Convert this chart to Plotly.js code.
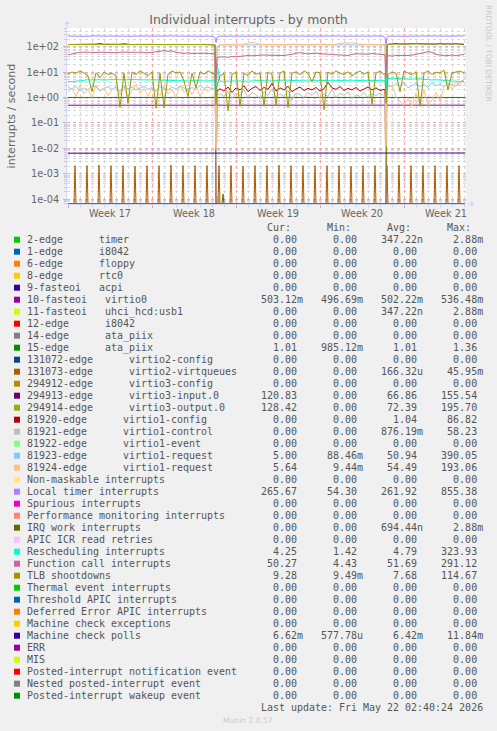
<!DOCTYPE html>
<html><head><meta charset="utf-8">
<script src="https://cdn.plot.ly/plotly-3.0.1.min.js"></script>
<style>html,body{margin:0;padding:0;background:#F0F0F0;}#chart{width:497px;height:731px;}</style>
</head><body><div id="chart"></div>
<script>
// ---------------- DATA ----------------
const seriesLabels = [
 "2-edge      timer","1-edge      i8042","6-edge      floppy","8-edge      rtc0","9-fasteoi   acpi",
 "10-fasteoi   virtio0","11-fasteoi   uhci_hcd:usb1","12-edge      i8042","14-edge      ata_piix","15-edge      ata_piix",
 "131072-edge      virtio2-config","131073-edge      virtio2-virtqueues","294912-edge      virtio3-config",
 "294913-edge      virtio3-input.0","294914-edge      virtio3-output.0",
 "81920-edge      virtio1-config","81921-edge      virtio1-control","81922-edge      virtio1-event",
 "81923-edge      virtio1-request","81924-edge      virtio1-request",
 "Non-maskable interrupts","Local timer interrupts","Spurious interrupts","Performance monitoring interrupts",
 "IRQ work interrupts","APIC ICR read retries","Rescheduling interrupts","Function call interrupts","TLB shootdowns",
 "Thermal event interrupts","Threshold APIC interrupts","Deferred Error APIC interrupts","Machine check exceptions",
 "Machine check polls","ERR","MIS","Posted-interrupt notification event","Nested posted-interrupt event",
 "Posted-interrupt wakeup event"];
const seriesColors = [
 "#00CC00","#0066B3","#FF8000","#FFCC00","#330099","#990099","#CCFF00","#FF0000","#808080","#008F00",
 "#00487D","#B35A00","#B38F00","#6B006B","#8FB300","#B30000","#BEBEBE","#80FF80","#80C9FF","#FFC080",
 "#FFE680","#AA80FF","#EE00CC","#FF8080","#666600","#FFBFFF","#00FFCC","#CC6699","#999900",
 "#00CC00","#0066B3","#FF8000","#FFCC00","#330099","#990099","#CCFF00","#FF0000","#808080","#008F00"];
const curText = ["0.00","0.00","0.00","0.00","0.00","503.12m","0.00","0.00","0.00","1.01",
 "0.00","0.00","0.00","120.83","128.42","0.00","0.00","0.00","5.00","5.64",
 "0.00","265.67","0.00","0.00","0.00","0.00","4.25","50.27","9.28",
 "0.00","0.00","0.00","0.00","6.62m","0.00","0.00","0.00","0.00","0.00"];
const minText = ["0.00","0.00","0.00","0.00","0.00","496.69m","0.00","0.00","0.00","985.12m",
 "0.00","0.00","0.00","0.00","0.00","0.00","0.00","0.00","88.46m","9.44m",
 "0.00","54.30","0.00","0.00","0.00","0.00","1.42","4.43","9.49m",
 "0.00","0.00","0.00","0.00","577.78u","0.00","0.00","0.00","0.00","0.00"];
const avgText = ["347.22n","0.00","0.00","0.00","0.00","502.22m","347.22n","0.00","0.00","1.01",
 "0.00","166.32u","0.00","66.86","72.39","1.04","876.19m","0.00","50.94","54.49",
 "0.00","261.92","0.00","0.00","694.44n","0.00","4.79","51.69","7.68",
 "0.00","0.00","0.00","0.00","6.42m","0.00","0.00","0.00","0.00","0.00"];
const maxText = ["2.88m","0.00","0.00","0.00","0.00","536.48m","2.88m","0.00","0.00","1.36",
 "0.00","45.95m","0.00","155.54","195.70","86.82","58.23","0.00","390.05","193.06",
 "0.00","855.38","0.00","0.00","2.88m","0.00","323.93","291.12","114.67",
 "0.00","0.00","0.00","0.00","11.84m","0.00","0.00","0.00","0.00","0.00"];
const headerText = "Cur:      Min:      Avg:      Max:";
const lastUpdateText = "Last update: Fri May 22 02:40:24 2026";

const weekLabels = ["Week 17","Week 18","Week 19","Week 20","Week 21"];
const yTickVals = [1e-4,1e-3,1e-2,1e-1,1,10,100];
const yTickText = ["1e-04","1e-03","1e-02","1e-01","1e+00","1e+01","1e+02"];

// time base: hours after Sun 2026-04-19 00:00; samples every 8 h, plus points around the two reboots
const startUTC = Date.UTC(2026,3,19,0,0);
const stepHours = 8, gridCount = 100;
const rebootHours = [296, 636];
const viewStartHour = -2, viewEndHour = 796;

// noisy series on that time base (segments: 37 | reboot 3 | 42 | reboot 3 | 20)
const localTimer = [
 262,258,265,260,263,257,266,261,259,264,260,262,258,265,261,263,259,262,266,260,258,263,261,264,259,262,260,265,261,258,263,260,262,264,259,261,255,
 228,144,236,
 262,260,264,258,263,261,259,265,260,262,258,264,261,263,259,262,260,265,258,261,263,260,262,259,264,261,258,263,260,262,264,259,261,263,260,262,258,264,261,260,263,256,
 226,117,234,
 262,259,264,261,263,258,262,265,260,263,259,261,264,262,258,263,261,264,260,266];
const functionCall = [
 48,52,58,60,61,60,62,59,61,60,62,60,58,61,60,62,59,60,61,59,58,60,62,64,70,66,68,60,56,55,57,54,55,56,54,55,53,
 52,4.43,38,
 39,40,38,41,40,42,44,45,44,46,45,47,46,45,47,46,45,48,50,56,58,55,52,54,56,53,52,50,47,46,47,46,45,50,53,52,50,51,54,52,50,49,
 48,6.0,42,
 44,43,45,44,46,45,47,50,52,58,64,60,50,46,44,45,47,44,46,50];
const tlbShootdowns = [
 8.2,10.1,9.0,11.2,9.3,7.1,1.7,9.4,6.0,10.3,8.1,9.2,7.0,0.4,9.1,0.6,10.2,8.0,11.3,9.0,7.2,10.4,0.38,9.1,0.4,8.2,11.0,9.3,10.1,4.5,1.1,9.2,2.4,10.3,8.4,11.2,9.0,
 8.0,0.5,3.0,
 7.1,9.0,0.3,8.2,10.1,0.45,9.2,7.3,11.1,8.4,9.1,0.45,10.2,8.0,0.5,9.3,11.0,0.4,9.0,10.3,8.1,11.2,9.0,4.2,10.1,9.3,0.33,10.0,8.2,11.1,9.2,8.0,10.4,7.1,9.3,11.0,8.3,10.2,0.55,9.1,11.0,8.2,
 9.0,0.6,2.0,
 8.1,10.2,9.0,1.7,11.1,9.2,8.0,10.3,0.45,9.1,11.2,8.1,10.0,9.2,12.0,2.0,9.3,10.1,11.0,9.3];
const rescheduling = [
 4.3,4.2,4.4,4.6,4.8,5.0,4.9,5.1,5.0,4.9,5.0,5.2,5.1,5.0,4.9,5.0,5.1,5.0,4.9,4.8,4.9,5.0,5.1,4.9,4.8,4.7,4.8,4.6,4.5,4.6,4.5,4.6,4.7,4.6,4.5,4.6,4.7,
 4.6,1.42,22,
 4.4,4.3,4.4,4.5,4.6,4.5,4.4,4.3,4.5,4.6,4.7,4.6,4.5,4.4,4.6,4.8,4.9,4.8,4.7,4.6,4.5,4.4,4.5,4.6,4.7,4.8,4.7,4.6,4.5,4.6,4.7,4.8,4.9,4.8,4.7,4.6,4.5,4.6,4.7,4.6,4.5,4.6,
 4.6,1.6,15,
 5.5,5.8,5.6,5.7,5.5,5.3,5.4,5.6,5.5,5.2,5.0,4.9,5.0,4.8,4.7,4.6,4.5,4.4,4.3,4.25];
const virtio1Req23 = [
 2.5,2.2,2.8,1.8,2.4,2.0,3.0,2.6,1.9,2.3,2.7,2.1,2.5,1.8,2.9,2.2,2.6,2.0,2.4,2.8,2.1,2.5,1.9,2.7,2.3,2.0,2.6,2.2,2.8,2.4,1.9,2.5,2.1,2.9,2.3,2.6,2.2,
 2.4,0.0885,100,
 118,115,120,117,116,119,121,118,117,120,116,119,118,117,120,119,116,118,121,117,119,118,116,120,117,119,118,121,117,116,119,118,120,117,119,116,118,120,117,119,118,116,
 117,0.09,2.0,
 3.2,2.6,3.5,2.8,3.8,2.4,3.0,3.6,2.7,3.3,2.5,3.9,2.9,3.4,2.6,3.7,3.1,2.8,4.2,5.0];
const virtio1Req24 = [
 1.6,2.4,1.1,2.9,1.4,2.2,1.0,3.1,1.7,2.5,1.2,2.0,2.8,1.3,2.6,1.0,1.9,3.3,1.5,2.3,1.1,2.7,1.8,1.2,2.9,1.4,2.1,1.0,3.0,1.6,2.4,1.3,2.8,1.1,2.2,1.7,2.5,
 2.0,0.00944,100,
 122,125,121,124,126,123,125,140,145,138,124,122,125,123,121,124,126,122,125,123,124,122,125,121,123,126,124,122,125,123,136,140,138,142,135,124,122,125,123,124,122,121,
 122,0.012,2.5,
 2.7,3.0,1.1,0.7,0.5,0.9,0.45,1.5,0.6,2.0,0.5,0.8,1.6,0.7,2.8,3.5,2.2,4.0,3.0,5.6];
const virtio1Config = [
 0,0,0,0,0,0,0,0,0,0,0,0,0,0,0,0,0,0,0,0,0,0,0,0,0,0,0,0,0,0,0,0,0,0,0,0,0,
 0,0,1.8,
 2.2,1.8,2.6,1.6,2.4,2.0,2.9,1.7,2.3,2.7,1.9,2.5,2.1,3.6,1.8,2.4,2.0,2.8,1.7,2.2,2.6,1.9,2.3,2.0,2.5,1.8,2.2,4.0,2.4,2.1,2.7,1.9,2.3,2.0,2.5,1.8,2.2,2.6,2.0,2.4,1.9,2.1,
 2.0,0,0,
 0,0,0,0,0,0,0,0,0,0,0,0,0,0,0,0,0,0,0,0];
const virtio1Control = [
 0,0,0,0,0,0,0,0,0,0,0,0,0,0,0,0,0,0,0,0,0,0,0,0,0,0,0,0,0,0,0,0,0,0,0,0,0,
 0,0,1.2,
 1.4,1.1,1.8,0.9,1.5,1.2,2.0,1.0,1.6,1.3,0.9,1.7,1.2,2.2,1.0,1.4,1.1,1.9,0.8,1.5,1.3,1.0,1.6,1.2,1.8,0.9,1.4,1.1,2.1,1.0,1.5,1.2,1.7,0.9,1.3,1.1,1.6,1.0,1.4,1.2,1.5,1.1,
 1.2,0,0,
 0,0,0,0,0,0,0,0,0,0,0,0,0,0,0,0,0,0,0,0];
const virtio3Input = [
 122,123,121,124,122,123,121,125,132,123,124,123,122,124,129,122,121,123,122,121,123,122,124,123,122,123,121,122,123,122,121,122,121,123,122,121,122,
 118,0,0,
 0,0,0,0,0,0,0,0,0,0,0,0,0,0,0,0,0,0,0,0,0,0,0,0,0,0,0,0,0,0,0,0,0,0,0,0,0,0,0,0,0,0,
 0,0,110,
 124,126,133,127,125,128,132,130,128,125,131,129,126,133,127,130,126,132,127,121];
const virtio3Output = [
 122,123,121,124,122,123,121,125,128,123,124,123,122,124,123,122,121,123,122,121,123,122,124,123,122,123,121,122,123,122,121,122,121,123,122,121,122,
 120,0,0,
 0,0,0,0,0,0,0,0,0,0,0,0,0,0,0,0,0,0,0,0,0,0,0,0,0,0,0,0,0,0,0,0,0,0,0,0,0,0,0,0,0,0,
 0,0,115,
 124,126,129,127,125,128,126,130,128,125,127,129,126,128,127,130,126,128,127,128];

// daily burst of virtio2-virtqueues (one per day, ~14:00), peak rate in milli-interrupts/s
const spikeHourOfDay = 14;
const virtqueuePeaksMilli = [2.1,2.1,2.2,2.1,2.1,2.0,2.1,2.1,2.2,2.1,2.1,2.1,2.1,2.1,2.0,2.1,2.1,2.2,2.1,2.1,2.1,2.1,2.1,2.0,2.1,2.1,2.1,2.2,2.1,2.1,2.1,2.1,2.1];

// nearly flat series, sampled at start, around reboots, end
const flatHours = [0,294,296,298,634,636,638,794];
const virtio0Rate = [0.50,0.50,0.497,0.50,0.50,0.497,0.50,0.503];
const ataPiix15Rate = [1.01,1.01,0.985,1.01,1.01,0.99,1.01,1.01];
const mcePollRate = [6.5e-3,6.4e-3,6.4e-3,6.4e-3,6.4e-3,6.4e-3,6.4e-3,6.6e-3];
// tiny single bursts
const burstHoursA = [0,296,298,300,794];
const timerBurst = [0,0,1.3e-4,0,0];
const burstHoursB = [0,308,310,312,794];
const irqWorkBurst = [0,0,1.6e-4,0,0];
// all-zero series
const zeroHours = [0,794];
const zeroRate = [0,0];

// ---------------- BUILD ----------------
const HOUR = 3600e3;
const toTime = h => startUTC + h*HOUR;
const Y_RANGE = [-4.185, 2.735];
const ZERO_LEVEL = Math.pow(10, Y_RANGE[0]); // rrdtool draws 0 on the bottom edge of a log graph

const sampleHours = (() => {
  const s = new Set();
  for (let k=0;k<gridCount;k++) s.add(k*stepHours);
  rebootHours.forEach(r => {s.add(r-2); s.add(r); s.add(r+2);});
  return [...s].sort((a,b)=>a-b);
})();

const spikeHours = [], spikeVals = [];
virtqueuePeaksMilli.forEach((p,d) => {
  const h = d*24 + spikeHourOfDay;
  spikeHours.push(h-2, h, h+2);
  spikeVals.push(0, p/1000, 0);
});

const seriesData = {};
for (let i=0;i<seriesLabels.length;i++) seriesData[i] = [zeroHours, zeroRate];
seriesData[0] = [burstHoursA, timerBurst];
seriesData[5] = [flatHours, virtio0Rate];
seriesData[6] = [burstHoursA, timerBurst];
seriesData[9] = [flatHours, ataPiix15Rate];
seriesData[11] = [spikeHours, spikeVals];
seriesData[13] = [sampleHours, virtio3Input];
seriesData[14] = [sampleHours, virtio3Output];
seriesData[15] = [sampleHours, virtio1Config];
seriesData[16] = [sampleHours, virtio1Control];
seriesData[18] = [sampleHours, virtio1Req23];
seriesData[19] = [sampleHours, virtio1Req24];
seriesData[21] = [sampleHours, localTimer];
seriesData[24] = [burstHoursB, irqWorkBurst];
seriesData[26] = [sampleHours, rescheduling];
seriesData[27] = [sampleHours, functionCall];
seriesData[28] = [sampleHours, tlbShootdowns];
seriesData[33] = [flatHours, mcePollRate];

const traces = [];
for (let i=0;i<seriesLabels.length;i++) {
  const [hrs, vals] = seriesData[i];
  if (hrs.length !== vals.length) console.error('length mismatch', i, hrs.length, vals.length);
  traces.push({type:'scatter', mode:'lines', x: hrs.map(toTime), y: vals.map(v => v>0 ? v : ZERO_LEVEL),
    line:{color: seriesColors[i], width:1}, hoverinfo:'skip', showlegend:false, cliponaxis:true});
}
traces.push({type:'scatter', mode:'lines', x:[], y:[], xaxis:'x2', yaxis:'y', hoverinfo:'skip', showlegend:false});

// pixel helpers for the page furniture
const L=67, T=28, PW=399, PH=176, W=497, H=731;
const px2x = px => (px-L)/PW;
const py2y = py => (T+PH-py)/PH;

const dayTicks = [], weekStarts = [], weekMids = [];
for (let d=-1; d<=34; d++) dayTicks.push(toTime(d*24));
for (let w=0; w<5; w++) { weekStarts.push(toTime(w*168)); weekMids.push(toTime(w*168+84)); }
const yMinor = [];
for (let n=-5;n<=2;n++) for (let k=2;k<=9;k++) yMinor.push(k*Math.pow(10,n));

const nb = s => s.replace(/ /g, '\u00a0');
const fmt = s => { const u = /[a-z]$/.test(s) ? s.slice(-1) : ' '; const num = u===' ' ? s : s.slice(0,-1); return num.padStart(9) + u; };

const MONO = {family:'DejaVu Sans Mono', size:9.97, color:'#555'};
const annotations = [], shapes = [];
const ROW0 = 239.7, ROWH = 12, TEXTX = 26.3;
annotations.push({xref:'paper', yref:'paper', x:px2x(TEXTX), y:py2y(ROW0-ROWH), xanchor:'left', yanchor:'middle',
  text: nb(' '.repeat(40) + headerText), showarrow:false, font:MONO, borderpad:0});
for (let i=0;i<seriesLabels.length;i++) {
  const y = ROW0 + i*ROWH;
  const line = seriesLabels[i].padEnd(36) + fmt(curText[i]) + fmt(minText[i]) + fmt(avgText[i]) + fmt(maxText[i]);
  annotations.push({xref:'paper', yref:'paper', x:px2x(TEXTX), y:py2y(y), xanchor:'left', yanchor:'middle',
    text: nb(line), showarrow:false, font:MONO, borderpad:0});
  shapes.push({type:'rect', xref:'paper', yref:'paper', x0:px2x(14), x1:px2x(20), y0:py2y(y+3), y1:py2y(y-3),
    fillcolor: seriesColors[i], line:{width:0}});
}
annotations.push({xref:'paper', yref:'paper', x:px2x(TEXTX), y:py2y(ROW0 + seriesLabels.length*ROWH), xanchor:'left', yanchor:'middle',
  text: nb(' '.repeat(39) + lastUpdateText), showarrow:false, font:MONO, borderpad:0});
annotations.push({xref:'paper', yref:'paper', x:px2x(248), y:py2y(720.3), xanchor:'center', yanchor:'middle',
  text:'Munin 2.0.57', showarrow:false, font:{family:'DejaVu Sans', size:7.6, color:'#cccccc'}});
annotations.push({xref:'paper', yref:'paper', x:px2x(489), y:py2y(53), xanchor:'center', yanchor:'middle', textangle:90,
  text:'RRDTOOL / TOBI OETIKER', showarrow:false, font:{family:'DejaVu Sans', size:7.5, color:'#c8c8c8'}});
// axis arrows
annotations.push({xref:'paper', yref:'paper', x:px2x(474), y:0, ax:-8, ay:0, text:'', showarrow:true,
  arrowhead:1, arrowsize:1, arrowwidth:1, arrowcolor:'#CFD6F8'});
annotations.push({xref:'paper', yref:'paper', x:0, y:py2y(21), ax:0, ay:8, text:'', showarrow:true,
  arrowhead:1, arrowsize:1, arrowwidth:1, arrowcolor:'#CFD6F8'});

const TICKFONT = {family:'DejaVu Sans', size:9.7, color:'#666'};
const range = [toTime(viewStartHour), toTime(viewEndHour)];
const layout = {
  width:W, height:H, margin:{l:L, r:W-L-PW, t:T, b:H-T-PH, pad:0},
  paper_bgcolor:'#F0F0F0', plot_bgcolor:'#FFFFFF', showlegend:false, hovermode:false,
  title:{text:'Individual interrupts - by month', font:{family:'DejaVu Sans', size:12.5, color:'#666'},
    x:0.5, xref:'container', xanchor:'center', y:1-19.3/H, yref:'container', yanchor:'middle'},
  xaxis:{type:'date', range:range, autorange:false, tickmode:'array', tickvals:weekMids, ticktext:weekLabels,
    showgrid:false, zeroline:false, ticks:'', tickfont:TICKFONT, showline:true, linecolor:'#CFD6F8', linewidth:1,
    minor:{tickmode:'array', tickvals:dayTicks, showgrid:true, gridcolor:'#d8d8d8', griddash:'dot', gridwidth:1,
      ticks:'outside', ticklen:2, tickcolor:'#cccccc'}},
  xaxis2:{type:'date', range:range, autorange:false, overlaying:'x', anchor:'y', side:'bottom', tickmode:'array',
    tickvals:weekStarts, showticklabels:false, showgrid:true, gridcolor:'#f0a8a8', griddash:'dot', gridwidth:1,
    ticks:'outside', ticklen:3, tickcolor:'#f0a0a0', zeroline:false, showline:false},
  yaxis:{type:'log', range:Y_RANGE, autorange:false, tickmode:'array', tickvals:yTickVals, ticktext:yTickText,
    showgrid:true, gridcolor:'#f0a8a8', griddash:'dot', gridwidth:1, zeroline:false,
    ticks:'outside', ticklen:3, tickcolor:'#f0a0a0', ticklabelstandoff:2, tickfont:TICKFONT,
    showline:true, linecolor:'#CFD6F8', linewidth:1,
    minor:{tickmode:'array', tickvals:yMinor, showgrid:true, gridcolor:'#d8d8d8', griddash:'dot', gridwidth:1,
      ticks:'outside', ticklen:2, tickcolor:'#cccccc'},
    title:{text:'interrupts / second', font:{family:'DejaVu Sans', size:11.1, color:'#666'}, standoff:8}},
  annotations:annotations, shapes:shapes
};
Plotly.newPlot('chart', traces, layout, {staticPlot:true, displayModeBar:false});
</script></body></html>
